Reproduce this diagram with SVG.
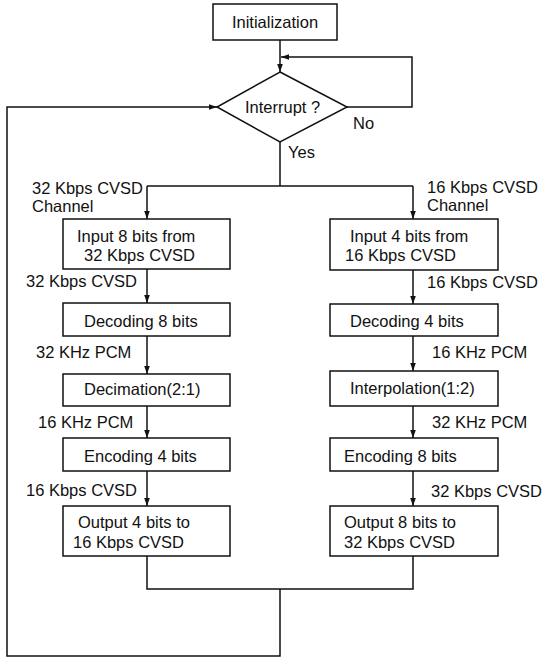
<svg xmlns="http://www.w3.org/2000/svg" width="542" height="658" viewBox="0 0 542 658">
<style>
.box{fill:#fff;stroke:#111;stroke-width:1.5}
.ln{fill:none;stroke:#111;stroke-width:1.5}
text{font-family:"Liberation Sans",Arial,sans-serif;font-size:16.5px;fill:#111}
</style>
<defs>
<marker id="ah" markerUnits="userSpaceOnUse" markerWidth="8" markerHeight="8" viewBox="0 0 8 8" refX="8" refY="4" orient="auto">
<path d="M0,1.2 L8,4 L0,6.8 Z" fill="#111"/>
</marker>
</defs>
<rect width="542" height="658" fill="#fff"/>
<g id="connectors">
<path class="ln" d="M280,40 V72" marker-end="url(#ah)"/>
<path class="ln" d="M347,107 H412 V57 H281" marker-end="url(#ah)"/>
<path class="ln" d="M280,142 V186 M147,186 H413"/>
<path class="ln" d="M147,186 V219" marker-end="url(#ah)"/>
<path class="ln" d="M413,186 V219" marker-end="url(#ah)"/>
<path class="ln" d="M147,269 V303" marker-end="url(#ah)"/>
<path class="ln" d="M147,336 V374" marker-end="url(#ah)"/>
<path class="ln" d="M147,406 V438" marker-end="url(#ah)"/>
<path class="ln" d="M147,471 V506" marker-end="url(#ah)"/>
<path class="ln" d="M413,270 V304" marker-end="url(#ah)"/>
<path class="ln" d="M413,336 V371" marker-end="url(#ah)"/>
<path class="ln" d="M413,406 V438" marker-end="url(#ah)"/>
<path class="ln" d="M413,471 V506" marker-end="url(#ah)"/>
<path class="ln" d="M147,556 V589 H413 V556"/>
<path class="ln" d="M280,589 V656 H7 V107 H217" marker-end="url(#ah)"/>
</g>
<g id="init"><rect class="box" x="213" y="4" width="124" height="36"/><text x="275" y="28" text-anchor="middle">Initialization</text></g>
<g id="interrupt"><polygon class="box" points="280,72 347,107 280,142 217,107"/><text x="245" y="113">Interrupt ?</text></g>
<g id="lbl-no"><text x="353" y="129">No</text></g>
<g id="lbl-yes"><text x="288" y="158">Yes</text></g>
<g id="lbl-left-ch"><text x="32" y="194">32 Kbps CVSD</text><text x="32" y="212">Channel</text></g>
<g id="lbl-right-ch"><text x="427" y="193">16 Kbps CVSD</text><text x="427" y="211">Channel</text></g>
<g id="input8"><rect class="box" x="63" y="219" width="167" height="50"/><text x="77" y="242">Input 8 bits from</text><text x="84" y="261">32 Kbps CVSD</text></g>
<g id="input4"><rect class="box" x="330" y="219" width="168" height="51"/><text x="350" y="242">Input 4 bits from</text><text x="345" y="261">16 Kbps CVSD</text></g>
<g id="lbl-l1"><text x="26" y="287">32 Kbps CVSD</text></g>
<g id="lbl-r1"><text x="427" y="288">16 Kbps CVSD</text></g>
<g id="decode8"><rect class="box" x="63" y="303" width="167" height="33"/><text x="84" y="327">Decoding 8 bits</text></g>
<g id="decode4"><rect class="box" x="330" y="304" width="168" height="32"/><text x="350" y="327">Decoding 4 bits</text></g>
<g id="lbl-l2"><text x="36" y="358">32 KHz PCM</text></g>
<g id="lbl-r2"><text x="432" y="358">16 KHz PCM</text></g>
<g id="decim"><rect class="box" x="63" y="374" width="167" height="32"/><text x="84" y="395">Decimation(2:1)</text></g>
<g id="interp"><rect class="box" x="330" y="371" width="168" height="35"/><text x="350" y="394">Interpolation(1:2)</text></g>
<g id="lbl-l3"><text x="38" y="428">16 KHz PCM</text></g>
<g id="lbl-r3"><text x="432" y="428">32 KHz PCM</text></g>
<g id="encode4"><rect class="box" x="63" y="438" width="167" height="33"/><text x="84" y="462">Encoding 4 bits</text></g>
<g id="encode8"><rect class="box" x="330" y="438" width="168" height="33"/><text x="344" y="462">Encoding 8 bits</text></g>
<g id="lbl-l4"><text x="26" y="496">16 Kbps CVSD</text></g>
<g id="lbl-r4"><text x="431" y="497">32 Kbps CVSD</text></g>
<g id="output4"><rect class="box" x="63" y="506" width="167" height="50"/><text x="78" y="528">Output 4 bits to</text><text x="73" y="548">16 Kbps CVSD</text></g>
<g id="output8"><rect class="box" x="330" y="506" width="168" height="50"/><text x="344" y="528">Output 8 bits to</text><text x="344" y="548">32 Kbps CVSD</text></g>
</svg>
